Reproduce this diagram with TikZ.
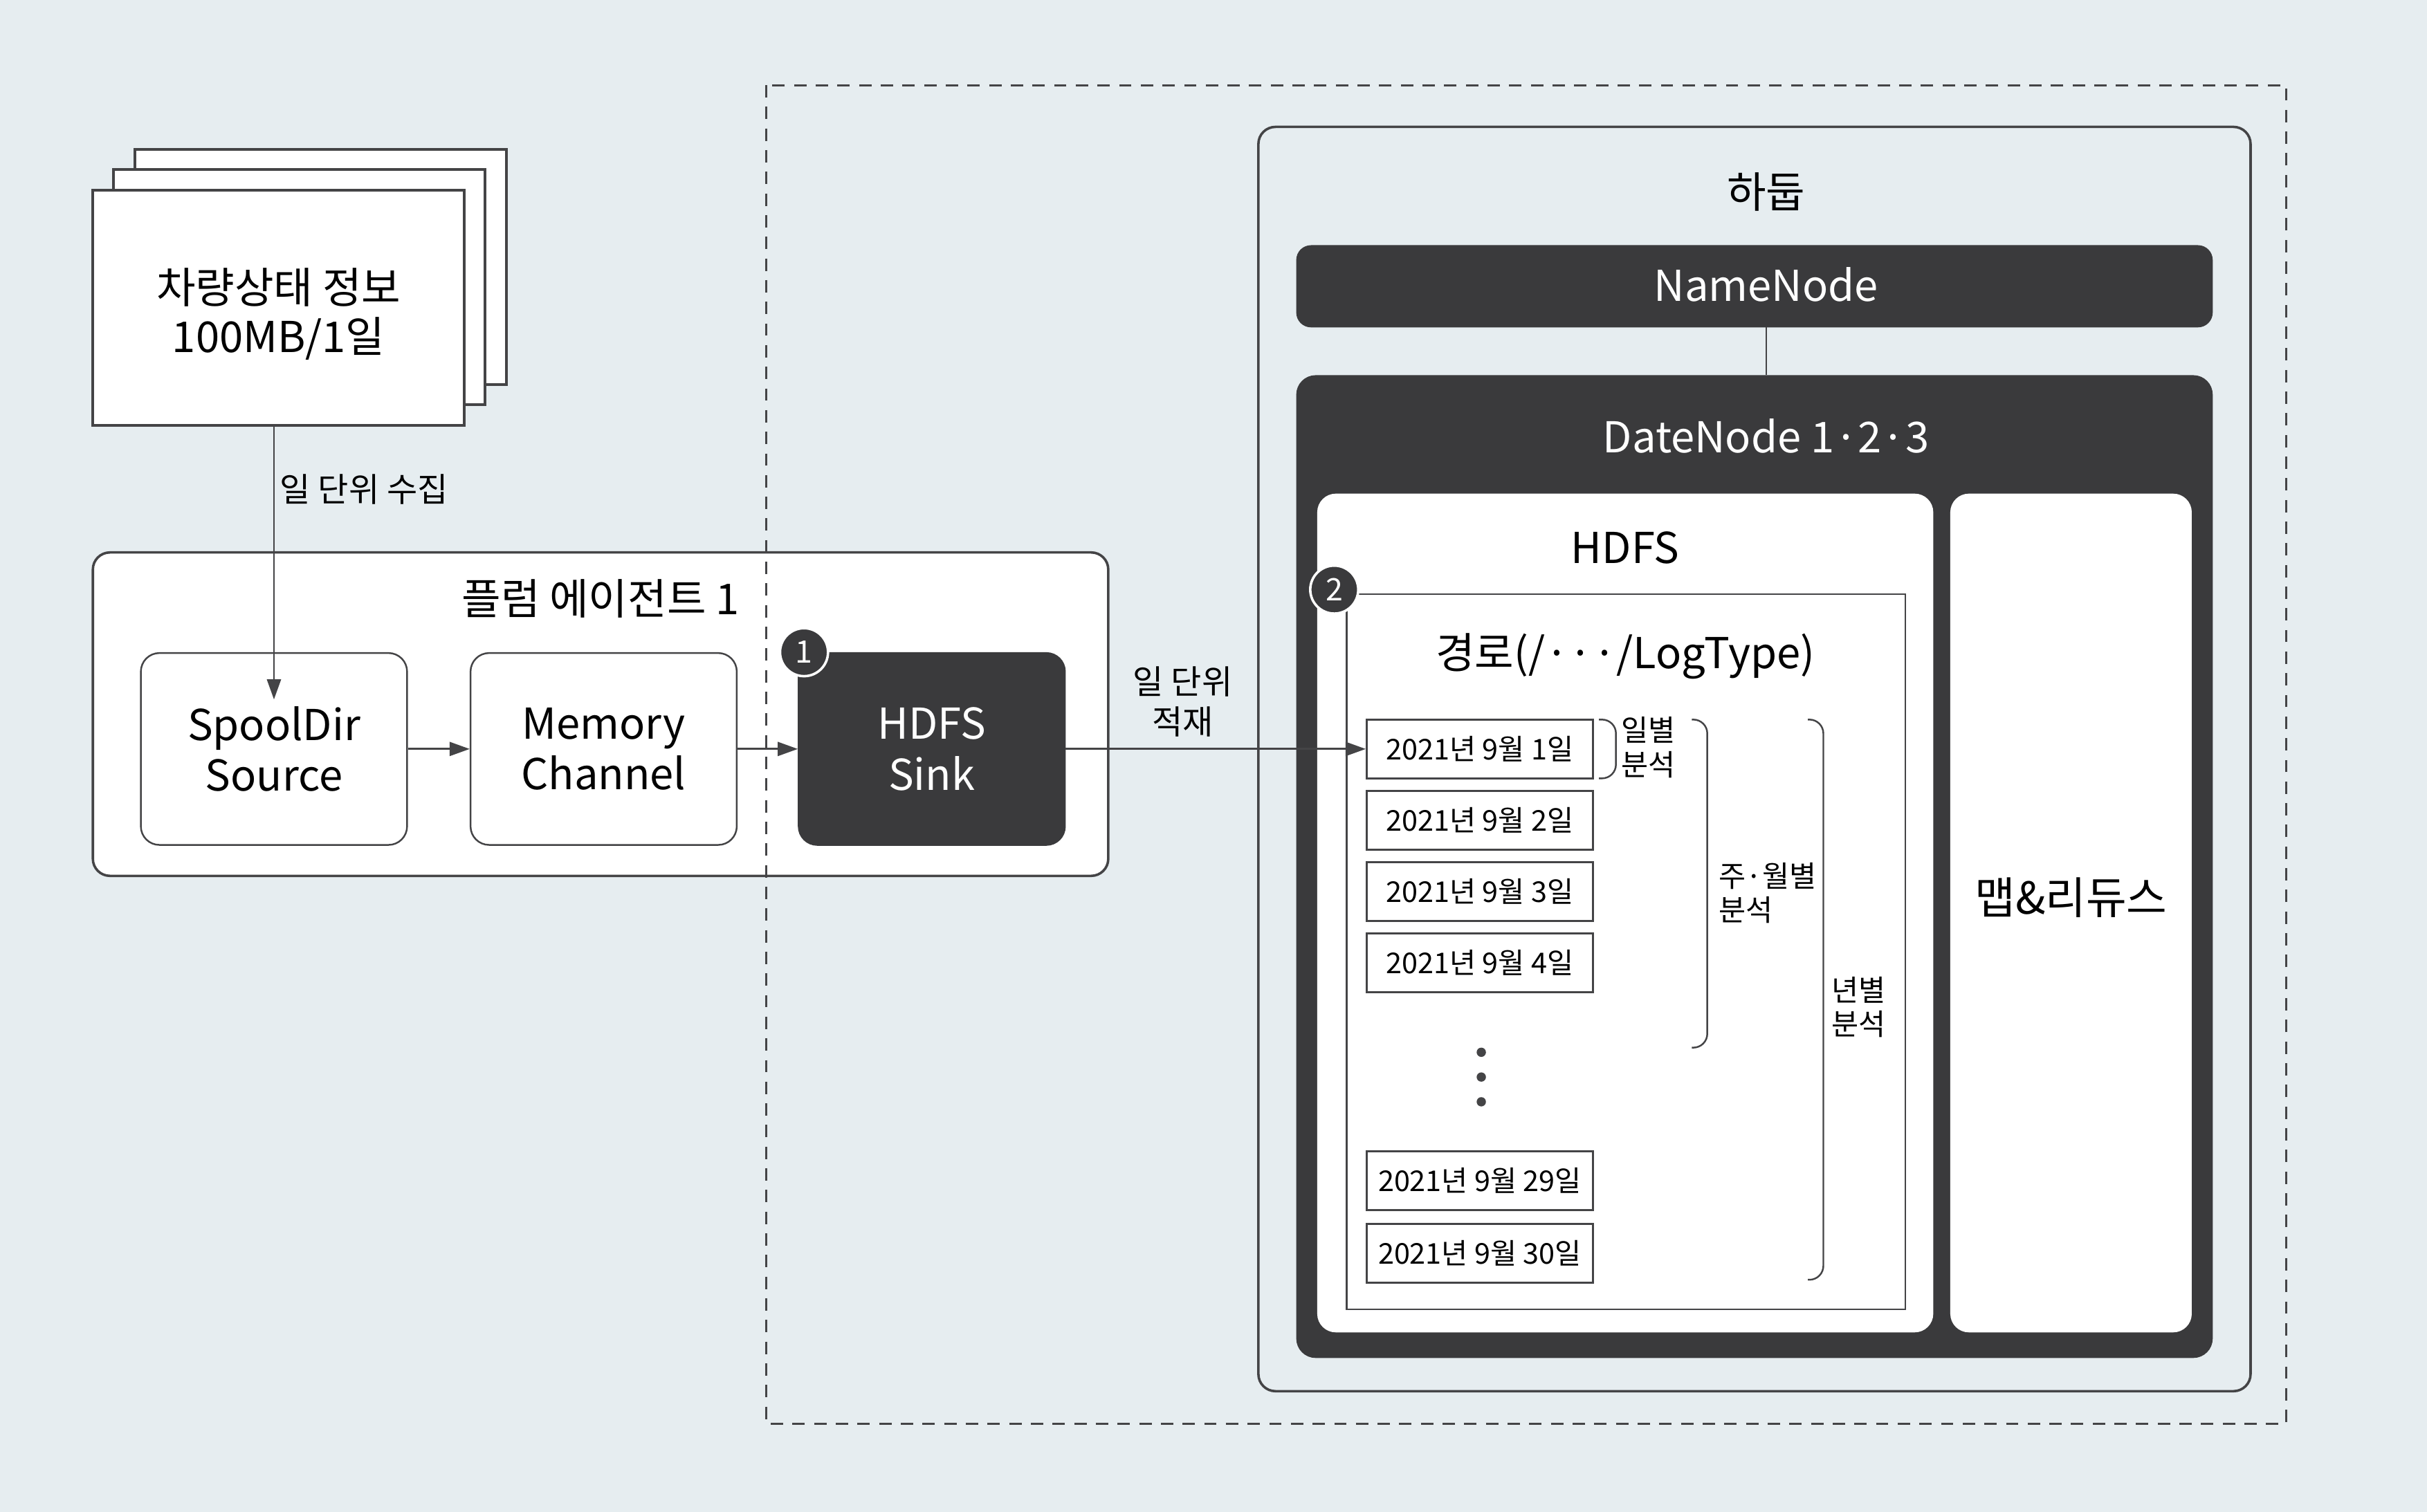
\documentclass[tikz,border=0pt]{standalone}
\usepackage{fontspec}
\setmainfont{Noto Sans CJK KR}
\usepackage{tikz}
\usetikzlibrary{arrows.meta, positioning}
\definecolor{bgcolor}{HTML}{E6EDF0}
\definecolor{darkbox}{HTML}{3A3A3C}
\definecolor{linegray}{HTML}{444446}

\begin{document}
\begin{tikzpicture}[x=1pt, y=-1pt, >={Triangle[length=13pt, width=9pt]}]
	\tikzstyle{page_style}=[rectangle, draw=linegray, line width=1.8pt, fill=white, minimum width=240pt, minimum height=152pt]
	\tikzstyle{agent_style}=[rectangle, rounded corners=11pt, draw=linegray, line width=1.6pt, fill=white, minimum width=656pt, minimum height=209pt]
	\tikzstyle{box_style}=[rectangle, rounded corners=12pt, draw=linegray, line width=1.1pt, fill=white, minimum width=172pt, minimum height=124pt, align=center, font=\fontsize{27.5}{33}\selectfont]
	\tikzstyle{darkbox_style}=[box_style, fill=darkbox, draw=darkbox, text=white]
	\tikzstyle{hadoop_style}=[rectangle, rounded corners=11pt, draw=linegray, line width=1.6pt, minimum width=641pt, minimum height=817pt]
	\tikzstyle{circle_style}=[circle, fill=darkbox, draw=white, line width=1.6pt, minimum size=31pt, inner sep=0pt, text=white, font=\fontsize{20}{20}\selectfont]
	\tikzstyle{date_style}=[rectangle, draw=linegray, line width=1.3pt, fill=white, minimum width=146pt, minimum height=38pt, font=\fontsize{18.5}{19}\selectfont]
	\tikzstyle{brace_style}=[draw=linegray, line width=1.1pt, rounded corners=9pt]
	\tikzstyle{label_style}=[font=\fontsize{21.5}{26}\selectfont, align=center]
	\tikzstyle{small_label_style}=[font=\fontsize{19}{22}\selectfont, align=center]
	\tikzstyle{title_style}=[font=\fontsize{27.5}{32}\selectfont]
	\tikzstyle{connector_style}=[color=linegray, line width=1.2pt]

	% background
	\useasboundingbox (0,0) rectangle (1568,977);
	\fill[bgcolor] (0,0) rectangle (1568,977);

	% pages
	\node at (207, 172.5) [page_style] (page_back) {};
	\node at (193.5, 185.5) [page_style] (page_mid) {};
	\node at (180, 199) [page_style] (page_front) {};
	\node at (180, 203) [align=center, font=\fontsize{27.5}{32}\selectfont] (page_text) {차량상태 정보\\100MB/1일};

	% flume agent
	\node at (388, 461.5) [agent_style] (flume_agent) {};
	\node at (388, 387) [title_style] (flume_title) {플럼 에이전트 1};
	\node at (177, 484) [box_style] (spooldir) {SpoolDir\\Source};
	\node at (390, 484) [box_style] (memory) {Memory\\Channel};
	\node at (602, 484) [darkbox_style] (sink) {HDFS\\Sink};
	\node at (sink.north west) [circle_style, xshift=4pt] (mark_1) {1};
	\coordinate (collect_end) at (177, 452);

	% dashed frame
	\draw[linegray, line width=1.3pt, dash pattern=on 8pt off 6pt] (495, 55) rectangle (1477, 920);

	% hadoop
	\node at (1133.5, 490.5) [hadoop_style] (hadoop) {};
	\node at (1141, 124) [title_style] (hadoop_title) {하둡};
	\node at (1133.5, 185) [darkbox_style, minimum width=591pt, minimum height=52pt, rounded corners=9pt] (name_node) {};
	\node at (1141, 184) [title_style, text=white] (name_node_title) {NameNode};
	\node at (1133.5, 560) [darkbox_style, minimum width=591pt, minimum height=634pt] (date_node) {};
	\node at (1141, 282) [title_style, text=white] (date_node_title) {DateNode 1·2·3};
	\node at (1050, 590) [box_style, draw=none, minimum width=398pt, minimum height=542pt] (hdfs) {};
	\node at (1050, 354) [title_style] (hdfs_title) {HDFS};
	\node at (1338, 590) [box_style, draw=none, minimum width=156pt, minimum height=542pt] (map_reduce) {};
	\node at (1338, 580) [title_style, font=\fontsize{28.5}{32}\selectfont] (map_reduce_title) {맵\&리듀스};

	% log path
	\node at (1050.5, 615) [rectangle, draw=linegray, line width=1.1pt, minimum width=361pt, minimum height=462pt] (log_path) {};
	\node at (862, 381) [circle_style] (mark_2) {2};
	\node at (1050, 424) [title_style] (log_path_title) {경로(/···/LogType)};

	% dates
	\foreach \d/\y in {1/484, 2/530, 3/576, 4/622, 29/763, 30/810}
		\node at (956, \y) [date_style] (date_\d) {2021년 9월 {\d}일};
	\foreach \x in {1,...,3}
		\fill[linegray] (957, 664 + 16*\x) circle (3pt);

	% braces
	\draw[brace_style] (1033, 465) -- (1044, 465) -- (1044, 503) -- (1033, 503);
	\node at (1065, 483) [small_label_style] (daily) {일별\\분석};
	\draw[brace_style] (1093, 465) -- (1103, 465) -- (1103, 677) -- (1093, 677);
	\node at (1107, 577) [small_label_style, anchor=west, align=left] (monthly) {주·월별\\분석};
	\draw[brace_style] (1168, 465) -- (1178, 465) -- (1178, 827) -- (1168, 827);
	\node at (1201, 651) [small_label_style] (yearly) {년별\\분석};

	% connect
	\draw[->, connector_style] (page_front.south -| spooldir) -- node[right, pos=0.23, label_style, text=black] {일 단위 수집} (collect_end);
	\path[->, connector_style] (spooldir) edge node[] {} (memory);
	\path[->, connector_style] (memory) edge node[] {} (sink);
	\path[->, connector_style] (sink) edge node[above, pos=0.39, yshift=4pt, label_style, text=black] {일 단위\\적재} (date_1);
	\draw[connector_style, line width=1pt] (name_node.south -| name_node_title) -- (date_node.north -| name_node_title);

\end{tikzpicture}
\end{document}
